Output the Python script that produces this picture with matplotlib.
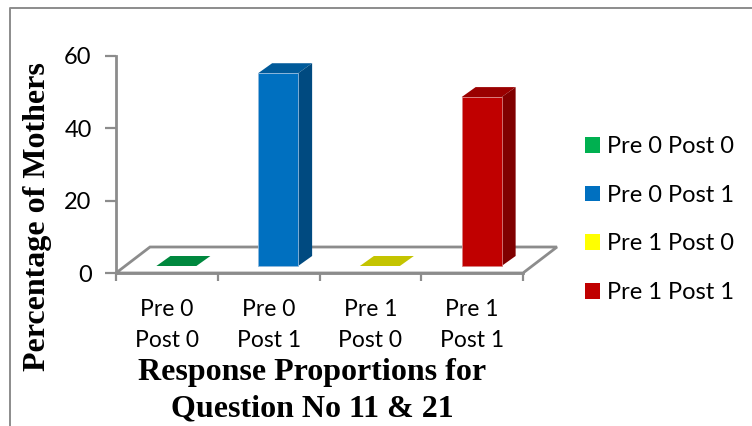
import matplotlib
matplotlib.use("Agg")
import matplotlib.pyplot as plt
import numpy as np
from matplotlib.patches import Patch, Polygon

categories = ["Pre 0\nPost 0", "Pre 0\nPost 1", "Pre 1\nPost 0", "Pre 1\nPost 1"]
legend_labels = ["Pre 0 Post 0", "Pre 0 Post 1", "Pre 1 Post 0", "Pre 1 Post 1"]
values = [0, 53.3, 0, 46.7]
y_ticks = [0, 20, 40, 60]

front_colors = ["#00b050", "#0070c0", "#ffff00", "#c00000"]
top_colors = ["#00883e", "#005a9a", "#c4c400", "#9a0000"]
side_colors = ["#006a30", "#004a80", "#a0a000", "#800000"]

GREY = "#8c8c8c"
W, H = 752, 426

fig = plt.figure(figsize=(W / 100, H / 100), dpi=100)
# axes box in pixels : x 116-523, y 56-273
ax = fig.add_axes([116 / W, 1 - 273 / H, 407 / W, 217 / H])
ax.set_xlim(-0.5, 3.5)
ax.set_ylim(0, 60)

# pixel sizes turned into data units
xu = 4 / 407
yu = 60 / 217
floor_dx, floor_dy = 34 * xu, 26 * yu
shift_x, shift_y = 9.5 * xu, 7 * yu
depth_x, depth_y = 14 * xu, 10 * yu
bar_w = 40 * xu

# floor
ax.add_patch(Polygon([(-0.5, 0), (3.5, 0), (3.5 + floor_dx, floor_dy), (-0.5 + floor_dx, floor_dy)],
                     closed=True, facecolor="white", edgecolor=GREY, lw=2, clip_on=False, zorder=1))

x = np.arange(len(values))
for i in range(len(values)):
    left = x[i] + shift_x - bar_w / 2
    right = left + bar_w
    top = shift_y + values[i]
    # dessus
    ax.add_patch(Polygon([(left, top), (right, top), (right + depth_x, top + depth_y), (left + depth_x, top + depth_y)],
                         closed=True, facecolor=top_colors[i], edgecolor="none", clip_on=False, zorder=3))
    if values[i] > 0:
        ax.add_patch(Polygon([(right, shift_y), (right + depth_x, shift_y + depth_y),
                              (right + depth_x, top + depth_y), (right, top)],
                             closed=True, facecolor=side_colors[i], edgecolor="none", clip_on=False, zorder=3))
        ax.bar(x[i] + shift_x, values[i], width=bar_w, bottom=shift_y, color=front_colors[i],
               edgecolor="#8fb8dc" if i == 1 else "#d98080", linewidth=0.6, clip_on=False, zorder=4)

for s in ["top", "right"]:
    ax.spines[s].set_visible(False)
for s in ["left", "bottom"]:
    ax.spines[s].set_color(GREY)
    ax.spines[s].set_linewidth(2)
    ax.spines[s].set_zorder(2)

ax.set_yticks(y_ticks)
ax.tick_params(axis="y", length=8, width=1.6, color=GREY, labelsize=17, pad=9.5)
ax.set_xticks(np.arange(-0.5, 4, 1))
ax.set_xticklabels([])
ax.tick_params(axis="x", which="major", length=6, width=1.6, color=GREY)
ax.set_xticks(x, minor=True)
ax.set_xticklabels(categories, minor=True, fontsize=16.5, linespacing=1.6)
ax.tick_params(axis="x", which="minor", length=0, pad=18.5)
for t in ax.get_xticklabels(minor=True) + ax.get_yticklabels():
    t.set_family("Lato")

fig.text(38 / W, 1 - 217 / H, "Percentage of Mothers", rotation=90, ha="center", va="center",
         family="Liberation Serif", weight="bold", fontsize=23)
fig.text(312.5 / W, 1 - 391 / H, "Response Proportions for\nQuestion No 11 & 21", ha="center", va="center",
         family="Liberation Serif", weight="bold", fontsize=23, linespacing=1.33)

handles = [Patch(facecolor=c, edgecolor="none") for c in front_colors]
fig.legend(handles, legend_labels, loc="center left", bbox_to_anchor=(585 / W, 1 - 219.5 / H),
           frameon=False, prop={"family": "Lato", "size": 17}, labelspacing=1.17,
           handlelength=0.65, handleheight=0.65, handletextpad=0.3, borderpad=0, borderaxespad=0)

# cadre
fig.add_artist(plt.Line2D([9.5 / W, 9.5 / W, 1], [0, 1 - 8 / H, 1 - 8 / H], color=GREY, lw=1.4))

fig.savefig("out.png", dpi=100)
